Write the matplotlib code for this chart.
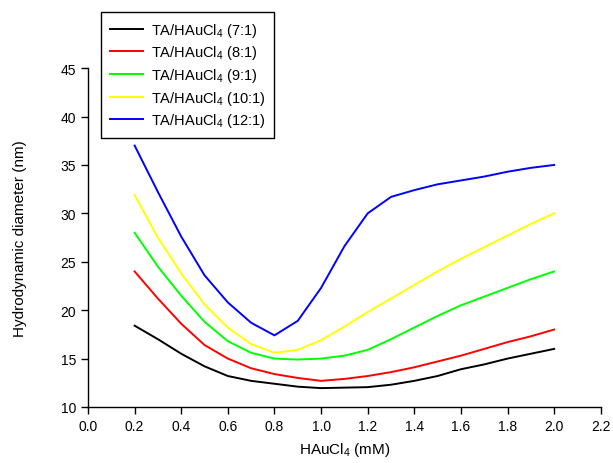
import numpy as np
import matplotlib
matplotlib.use("Agg")
import matplotlib.pyplot as plt

plt.rcParams['font.family'] = ['Liberation Sans', 'DejaVu Sans']
plt.rcParams['mathtext.fontset'] = 'custom'
plt.rcParams['mathtext.rm'] = 'Liberation Sans'
plt.rcParams['mathtext.it'] = 'Liberation Sans:italic'

# HAuCl4 concentration (mM)
conc = [0.2, 0.3, 0.4, 0.5, 0.6, 0.7, 0.8, 0.9, 1.0, 1.1,
        1.2, 1.3, 1.4, 1.5, 1.6, 1.7, 1.8, 1.9, 2.0]

# hydrodynamic diameter (nm) per TA/HAuCl4 ratio
d_7 = [18.4, 17.0, 15.5, 14.2, 13.2, 12.7, 12.4, 12.1, 11.95, 12.0,
       12.05, 12.3, 12.7, 13.2, 13.9, 14.4, 15.0, 15.5, 16.0]
d_8 = [24.0, 21.2, 18.6, 16.4, 15.0, 14.0, 13.4, 13.0, 12.7, 12.9,
       13.2, 13.6, 14.1, 14.7, 15.3, 16.0, 16.7, 17.3, 18.0]
d_9 = [28.0, 24.5, 21.5, 18.8, 16.8, 15.6, 15.0, 14.9, 15.0, 15.3,
       15.9, 17.0, 18.2, 19.4, 20.5, 21.4, 22.3, 23.2, 24.0]
d_10 = [31.9, 27.5, 23.8, 20.6, 18.2, 16.5, 15.6, 15.9, 16.9, 18.3,
        19.8, 21.2, 22.6, 24.0, 25.3, 26.5, 27.7, 28.9, 30.0]
d_12 = [37.0, 32.2, 27.6, 23.6, 20.8, 18.7, 17.4, 18.9, 22.3, 26.6,
        30.0, 31.7, 32.4, 33.0, 33.4, 33.8, 34.3, 34.7, 35.0]

ratios = ['7:1', '8:1', '9:1', '10:1', '12:1']
series = [d_7, d_8, d_9, d_10, d_12]
colors = ['#000000', '#ff0000', '#00ff00', '#ffff00', '#0000ff']

fig = plt.figure(figsize=(6.13, 4.64), dpi=100)
ax = fig.add_axes([0.1436, 0.1207, 0.8364, 0.7303])

for ratio, vals, c in zip(ratios, series, colors):
    ax.plot(conc, vals, color=c, lw=1.4, label='TA/HAuCl$_4$ (' + ratio + ')')

ax.set_xlim(0, 2.2)
ax.set_ylim(10, 45)
ax.set_xticks(np.arange(0, 2.21, 0.2))
ax.set_xticklabels(['%.1f' % t for t in np.arange(0, 2.21, 0.2)])
ax.set_yticks(np.arange(10, 46, 5))
ax.tick_params(direction='out', length=5, width=1, labelsize=10)
ax.spines['top'].set_visible(False)
ax.spines['right'].set_visible(False)
for s in ['left', 'bottom']:
    ax.spines[s].set_linewidth(1)

ax.set_xlabel('HAuCl$_4$ (mM)', fontsize=11, labelpad=5)
ax.set_ylabel('Hydrodynamic diameter (nm)', fontsize=11, labelpad=24)

leg = fig.legend(loc='upper left', bbox_to_anchor=(0.165, 0.972), fontsize=10.5,
                 frameon=True, fancybox=False, edgecolor='black', framealpha=1,
                 handlelength=2.3, handletextpad=0.5, labelspacing=0.32,
                 borderpad=0.6, borderaxespad=0)
leg.get_frame().set_linewidth(1)

fig.savefig('out.png', dpi=100)
